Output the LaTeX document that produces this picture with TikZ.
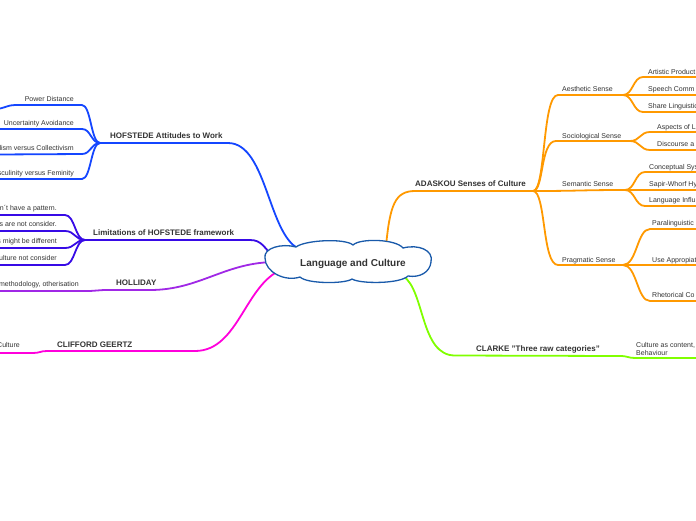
\documentclass[tikz,border=0pt]{standalone}
\usepackage{fontspec}
\setmainfont{Liberation Sans}
\definecolor{txt}{RGB}{51,51,51}
\definecolor{cHof}{RGB}{20,70,255}
\definecolor{cLim}{RGB}{55,10,230}
\definecolor{cHol}{RGB}{160,40,230}
\definecolor{cGee}{RGB}{255,0,220}
\definecolor{cAda}{RGB}{255,153,0}
\definecolor{cCla}{RGB}{128,255,0}
\definecolor{cCloud}{RGB}{25,90,170}
\begin{document}
\begin{tikzpicture}[x=1pt,y=-1pt,
  br/.style={line width=1.8pt,line cap=round},
  lbl/.style={font=\fontsize{7}{8}\selectfont,text=txt,inner sep=0},
  blbl/.style={font=\bfseries\fontsize{8}{9}\selectfont,text=txt,inner sep=0},
  cloudline/.style={draw=cCloud,fill=white,line width=1.3pt,line join=round}]
\useasboundingbox (0,0) rectangle (696,520);
\clip (0,0) rectangle (696,520);
\fill[white] (0,0) rectangle (696,520);

% ---------- HOFSTEDE Attitudes to Work ----------
\coordinate (hofA) at (302,250);
\coordinate (hofE) at (228,143);
\coordinate (hofH) at (100,143);
\draw[br,cHof] (hofA) .. controls (268,240) and (268,143) .. (hofE) -- (hofH);
\node[blbl,anchor=base west] (hofL) at (110,138.5) {HOFSTEDE Attitudes to Work};
\coordinate (pd) at (82,105);
\coordinate (ua) at (82,129);
\coordinate (ic) at (82,154);
\coordinate (mf) at (82,179);
\coordinate (pdL) at (15,105);
\coordinate (pdX) at (-3,109);
\coordinate (uaX) at (-3,129);
\coordinate (icX) at (-3,154.5);
\coordinate (mfX) at (-3,179);
\draw[br,cHof] (hofH) .. controls (91,143) and (91,105) .. (pd) -- (pdL) .. controls (8,105) and (5,108) .. (pdX);
\draw[br,cHof] (hofH) .. controls (91,143) and (91,129) .. (ua) -- (uaX);
\draw[br,cHof] (hofH) .. controls (91,143) and (91,154) .. (ic) -- (icX);
\draw[br,cHof] (hofH) .. controls (91,143) and (91,179) .. (mf) -- (mfX);
\node[lbl,anchor=base east] (pdT) at (74,101.5) {Power Distance};
\node[lbl,anchor=base east] (uaT) at (74,125.5) {Uncertainty Avoidance};
\node[lbl,anchor=base east] (icT) at (74,150.5) {lism versus Collectivism};
\node[lbl,anchor=base east] (mfT) at (74,175.5) {sculinity versus Feminity};

% ---------- Limitations of HOFSTEDE framework ----------
\coordinate (limA) at (273,256);
\coordinate (limE) at (250,240);
\coordinate (limH) at (85,240);
\draw[br,cLim] (limA) .. controls (264,248) and (262,240) .. (limE) -- (limH);
\node[blbl,anchor=base west] (limL) at (93,235.5) {Limitations of HOFSTEDE framework};
\coordinate (l1) at (65,215);
\coordinate (l2) at (65,231);
\coordinate (l3) at (65,248);
\coordinate (l4) at (65,265);
\coordinate (l1X) at (-3,215);
\coordinate (l2X) at (-3,231);
\coordinate (l3X) at (-3,248);
\coordinate (l4X) at (-3,265);
\draw[br,cLim] (limH) .. controls (75,240) and (75,215) .. (l1) -- (l1X);
\draw[br,cLim] (limH) .. controls (75,240) and (75,231) .. (l2) -- (l2X);
\draw[br,cLim] (limH) .. controls (75,240) and (75,248) .. (l3) -- (l3X);
\draw[br,cLim] (limH) .. controls (75,240) and (75,265) .. (l4) -- (l4X);
\node[lbl,anchor=base east] (l1T) at (57,210.8) {n´t have a pattern.};
\node[lbl,anchor=base east] (l2T) at (57,226.8) {s are not consider.};
\node[lbl,anchor=base east] (l3T) at (57,243.8) {s might be different};
\node[lbl,anchor=base east] (l4T) at (57,260.8) {ulture not consider};

% ---------- HOLLIDAY ----------
\coordinate (holA) at (276,262);
\coordinate (holE) at (150,290);
\coordinate (holH) at (104,290);
\coordinate (holC) at (90,291);
\coordinate (holX) at (-3,291);
\draw[br,cHol] (holA) .. controls (225,262) and (200,290) .. (holE) -- (holH);
\draw[br,cHol] (holH) .. controls (97,290) and (97,291) .. (holC) -- (holX);
\node[blbl,anchor=base west] (holL) at (116,285.6) {HOLLIDAY};
\node[lbl,anchor=base east] (holT) at (79,286) {methodology, otherisation};

% ---------- CLIFFORD GEERTZ ----------
\coordinate (geA) at (286,268);
\coordinate (geE) at (195,351);
\coordinate (geH) at (47,351);
\coordinate (geC) at (33,353);
\coordinate (geX) at (-3,353);
\draw[br,cGee] (geA) .. controls (245,280) and (240,351) .. (geE) -- (geH);
\draw[br,cGee] (geH) .. controls (40,351) and (40,353) .. (geC) -- (geX);
\node[blbl,anchor=base west] (geL) at (57,347.8) {CLIFFORD GEERTZ};
\node[lbl,anchor=base east] (geT) at (20,347.2) {Culture};

% ---------- ADASKOU Senses of Culture ----------
\coordinate (adA) at (386,246);
\coordinate (adE) at (415,191);
\coordinate (adH) at (533,191);
\draw[br,cAda] (adA) .. controls (390,205) and (395,191) .. (adE) -- (adH);
\node[blbl,anchor=base west] (adL) at (415,186.8) {ADASKOU Senses of Culture};
% senses
\coordinate (aeS) at (558,95);
\coordinate (aeH) at (623,95);
\coordinate (soS) at (556,141);
\coordinate (soH) at (630,141);
\coordinate (seH) at (625,190);
\coordinate (prS) at (558,265);
\coordinate (prH) at (623,265);
\draw[br,cAda] (adH) .. controls (546,191) and (542,95) .. (aeS) -- (aeH);
\draw[br,cAda] (adH) .. controls (544,191) and (540,141) .. (soS) -- (soH);
\draw[br,cAda] (adH) .. controls (580,191) and (580,190) .. (seH);
\draw[br,cAda] (adH) .. controls (546,191) and (542,265) .. (prS) -- (prH);
\node[lbl,anchor=base west] (aeT) at (562,91) {Aesthetic Sense};
\node[lbl,anchor=base west] (soT) at (562,138.5) {Sociological Sense};
\node[lbl,anchor=base west] (seT) at (562,186) {Semantic Sense};
\node[lbl,anchor=base west] (prT) at (562,262) {Pragmatic Sense};
% Aesthetic children
\coordinate (ae1) at (643,77);
\coordinate (ae2) at (643,95);
\coordinate (ae3) at (643,112);
\coordinate (ae1X) at (700,77);
\coordinate (ae2X) at (700,95);
\coordinate (ae3X) at (700,112);
\draw[br,cAda] (aeH) .. controls (633,95) and (633,77) .. (ae1) -- (ae1X);
\draw[br,cAda] (aeH) -- (ae2) -- (ae2X);
\draw[br,cAda] (aeH) .. controls (633,95) and (633,112) .. (ae3) -- (ae3X);
\node[lbl,anchor=base west] (ae1T) at (648,74) {Artistic Product};
\node[lbl,anchor=base west] (ae2T) at (648,91) {Speech Comm};
\node[lbl,anchor=base west] (ae3T) at (648,108.5) {Share Linguistic};
% Sociological children
\coordinate (so1) at (650,132);
\coordinate (so2) at (650,150);
\coordinate (so1X) at (700,132);
\coordinate (so2X) at (700,150);
\draw[br,cAda] (soH) .. controls (640,141) and (640,132) .. (so1) -- (so1X);
\draw[br,cAda] (soH) .. controls (640,141) and (640,150) .. (so2) -- (so2X);
\node[lbl,anchor=base west] (so1T) at (657,129) {Aspects of L};
\node[lbl,anchor=base west] (so2T) at (657,146.5) {Discourse a};
% Semantic children
\coordinate (se1) at (645,172);
\coordinate (se2) at (645,190);
\coordinate (se3) at (645,206);
\coordinate (se1X) at (700,172);
\coordinate (se2X) at (700,190);
\coordinate (se3X) at (700,206);
\draw[br,cAda] (seH) .. controls (635,190) and (635,172) .. (se1) -- (se1X);
\draw[br,cAda] (seH) -- (se2) -- (se2X);
\draw[br,cAda] (seH) .. controls (635,190) and (635,206) .. (se3) -- (se3X);
\node[lbl,anchor=base west] (se1T) at (649,169) {Conceptual Sys};
\node[lbl,anchor=base west] (se2T) at (649,186.5) {Sapir-Whorf Hy};
\node[lbl,anchor=base west] (se3T) at (649,202.5) {Language Influ};
% Pragmatic children
\coordinate (pr1) at (650,229);
\coordinate (pr2) at (650,265);
\coordinate (pr3) at (650,301);
\coordinate (pr1X) at (700,229);
\coordinate (pr2X) at (700,265);
\coordinate (pr3X) at (700,301);
\draw[br,cAda] (prH) .. controls (637,265) and (637,229) .. (pr1) -- (pr1X);
\draw[br,cAda] (prH) -- (pr2) -- (pr2X);
\draw[br,cAda] (prH) .. controls (637,265) and (637,301) .. (pr3) -- (pr3X);
\node[lbl,anchor=base west] (pr1T) at (652,225.5) {Paralinguistic};
\node[lbl,anchor=base west] (pr2T) at (652,262) {Use Appropiat};
\node[lbl,anchor=base west] (pr3T) at (652,297.5) {Rhetorical Co};

% ---------- CLARKE ----------
\coordinate (clA) at (403,276);
\coordinate (clE) at (455,355.5);
\coordinate (clH) at (620,356);
\coordinate (clC) at (635,358);
\coordinate (clX) at (700,358);
\draw[br,cCla] (clA) .. controls (425,290) and (420,355.5) .. (clE) -- (clH);
\draw[br,cCla] (clH) .. controls (628,356) and (628,358) .. (clC) -- (clX);
\node[blbl,anchor=base west] (clL) at (476,351.2) {CLARKE "Three raw categories"};
\node[lbl,anchor=north west,align=left] (clT) at (636,342.3) {Culture as content,\\Behaviour};

% ---------- central cloud ----------
\draw[cloudline] (265,258)
  .. controls (263,248) and (282,243) .. (296,247)
  .. controls (305,240) and (345,238) .. (353,245)
  .. controls (360,238) and (396,239) .. (403,248)
  .. controls (418,244) and (434,250) .. (431,262)
  .. controls (430,272) and (420,278) .. (408,276)
  .. controls (400,284) and (360,284) .. (352,279)
  .. controls (345,284) and (307,284) .. (300,277)
  .. controls (285,282) and (265,272) .. cycle;
\node[inner sep=0,font=\bfseries\fontsize{10}{12}\selectfont,text=txt] (root) at (353,263.5) {Language and Culture};
\end{tikzpicture}
\end{document}
